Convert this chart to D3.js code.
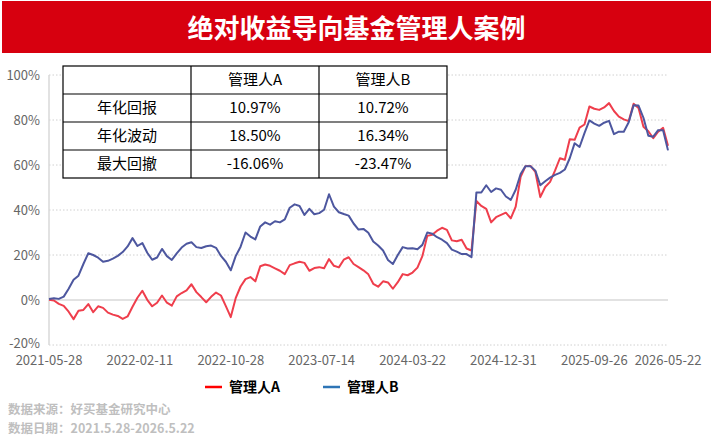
<!DOCTYPE html>
<html>
<head>
<meta charset="utf-8">
<script src="https://cdn.jsdelivr.net/npm/d3@7"></script>
<style>
  body { margin: 0; background: #fff; }
  svg { display: block; font-family: "Microsoft YaHei", "Noto Sans CJK SC", sans-serif; }
</style>
</head>
<body>
<div id="chart"></div>
<script>
// chart data (cumulative return, %), one value every 2 weeks
const title = "绝对收益导向基金管理人案例";
const seriesNames = ["管理人A", "管理人B"];
const tickIdx = [0, 37, 74, 111, 148, 185, 222, 252];
const tickLabels = ["2021-05-28", "2022-02-11", "2022-10-28", "2023-07-14",
                    "2024-03-22", "2024-12-31", "2025-09-26", "2026-05-22"];
const yTicks = [-20, 0, 20, 40, 60, 80, 100];

const valuesA = [
  0.1, -0.2, -1.7, -2.6, -5.2, -8.5, -4.8, -4.4, -1.8, -5.4,
  -2.8, -3.5, -5.6, -6.5, -7.1, -8.4, -7.3, -3.0, 1.0, 4.1,
  0.1, -2.8, -1.2, 2.0, -1.2, -2.5, 1.6, 3.1, 4.3, 7.0,
  3.5, 1.3, -1.0, 1.4, 3.3, 2.0, -2.7, -7.6, 0.8, 6.0,
  9.3, 10.2, 8.3, 15.0, 15.8, 15.2, 14.1, 13.0, 11.5, 15.5,
  16.3, 17.0, 16.5, 13.0, 14.2, 14.6, 14.1, 18.2, 15.2, 14.5,
  17.9, 19.0, 16.0, 14.6, 13.2, 11.4, 7.2, 5.9, 8.3, 7.8,
  5.0, 7.9, 11.5, 11.0, 12.2, 14.4, 19.5, 28.5, 29.0, 30.8,
  32.1, 31.2, 26.5, 26.1, 26.8, 22.9, 22.0, 44.0, 41.8, 40.5,
  34.5, 36.8, 37.8, 38.8, 36.3, 41.5, 54.7, 59.5, 59.6, 57.0,
  45.7, 50.2, 52.5, 57.5, 63.0, 62.3, 71.4, 71.2, 76.6, 78.0,
  86.0, 85.0, 84.5, 85.6, 87.5, 84.0, 81.5, 80.3, 79.5, 87.2,
  85.3, 77.0, 75.0, 71.9, 74.8, 76.5, 68.5
];
const valuesB = [
  0.4, 0.8, 0.5, 1.5, 5.0, 9.0, 10.8, 16.0, 20.8, 20.0,
  18.8, 17.0, 17.4, 18.4, 19.6, 21.3, 23.8, 27.5, 24.0, 25.3,
  21.0, 17.9, 18.9, 22.7, 19.5, 17.8, 20.7, 23.3, 25.0, 25.7,
  23.5, 23.1, 23.9, 24.2, 23.2, 19.6, 17.0, 13.2, 19.5, 23.7,
  30.0, 28.2, 26.9, 32.7, 34.5, 33.5, 35.0, 34.5, 35.8, 41.0,
  42.5, 41.8, 37.8, 40.5, 38.1, 38.6, 40.1, 47.0, 41.5, 39.0,
  38.2, 37.5, 34.0, 31.3, 31.6, 29.9, 26.0, 24.2, 22.0, 17.8,
  16.0, 20.0, 23.5, 22.9, 23.0, 22.6, 24.5, 30.0, 29.5, 27.9,
  26.8, 25.3, 22.4, 21.5, 20.4, 20.4, 19.0, 47.8, 47.8, 51.0,
  48.0, 49.6, 49.0, 46.0, 44.5, 49.0, 56.0, 59.5, 59.5, 57.5,
  51.0, 52.8, 54.4, 55.6, 56.5, 58.0, 63.0, 69.7, 68.0, 74.2,
  79.8, 78.4, 77.4, 78.8, 79.6, 73.7, 74.8, 74.8, 79.0, 86.6,
  86.4, 81.0, 73.0, 72.6, 75.5, 75.4, 66.5
];

const tableHead = ["", "管理人A", "管理人B"];
const tableRows = [
  ["年化回报", "10.97%", "10.72%"],
  ["年化波动", "18.50%", "16.34%"],
  ["最大回撤", "-16.06%", "-23.47%"]
];

const W = 713, H = 441;
const margin = {top: 75, right: 45, bottom: 96, left: 49};
const step = 2; // category indices between stored values

const svg = d3.select("#chart").append("svg")
  .attr("width", W).attr("height", H);

// title banner
svg.append("rect").attr("x", 2).attr("y", 1).attr("width", W - 4).attr("height", 52)
  .attr("fill", "#d7000f");
svg.append("text").attr("x", W / 2).attr("y", 38)
  .attr("text-anchor", "middle").attr("fill", "#fff")
  .attr("font-size", 26).attr("font-weight", "bold")
  .text(title);

const x = d3.scaleLinear()
  .domain([0, (valuesA.length - 1) * step])
  .range([margin.left, W - margin.right]);
const y = d3.scaleLinear()
  .domain([-20, 100])
  .range([H - margin.bottom, margin.top]);

// gridlines
svg.append("g").selectAll("line")
  .data(yTicks).join("line")
  .attr("x1", margin.left).attr("x2", W - margin.right)
  .attr("y1", d => y(d)).attr("y2", d => y(d))
  .attr("stroke", d => d === 0 ? "#d9d9d9" : "#d0d0d0")
  .attr("stroke-width", d => d === 0 ? 1.5 : 1)
  .attr("stroke-dasharray", d => d === 0 ? null : "1.5,2");

// y axis line
svg.append("line")
  .attr("x1", margin.left).attr("x2", margin.left)
  .attr("y1", y(100)).attr("y2", y(-20))
  .attr("stroke", "#d9d9d9").attr("stroke-width", 1.5);

// y labels
svg.append("g").selectAll("text")
  .data(yTicks).join("text")
  .attr("x", 40).attr("y", d => y(d) + (d === -20 ? 3 : 5))
  .attr("text-anchor", "end").attr("fill", "#666")
  .attr("font-size", 13)
  .text(d => d + "%");

// x labels
svg.append("g").selectAll("text")
  .data(tickIdx).join("text")
  .attr("x", d => x(d)).attr("y", 365)
  .attr("text-anchor", "middle").attr("fill", "#666")
  .attr("font-size", 13)
  .text((d, i) => tickLabels[i]);

// lines
const line = d3.line()
  .x((d, i) => x(i * step))
  .y(d => y(d));

svg.append("path").datum(valuesA)
  .attr("d", line).attr("fill", "none")
  .attr("stroke", "#ef3e4c").attr("stroke-width", 2)
  .attr("stroke-linejoin", "round");

svg.append("path").datum(valuesB)
  .attr("d", line).attr("fill", "none")
  .attr("stroke", "#4d579f").attr("stroke-width", 2)
  .attr("stroke-linejoin", "round");

// table
const tX = [63, 191, 319, 447];
const tY = 66, rowH = 28;
const allRows = [tableHead].concat(tableRows);
const tbl = svg.append("g");
tbl.append("rect")
  .attr("x", tX[0]).attr("y", tY)
  .attr("width", tX[3] - tX[0]).attr("height", rowH * allRows.length)
  .attr("fill", "#fff").attr("stroke", "#000").attr("stroke-width", 1.2);
tbl.selectAll("line.h")
  .data(d3.range(1, allRows.length)).join("line").attr("class", "h")
  .attr("x1", tX[0]).attr("x2", tX[3])
  .attr("y1", d => tY + d * rowH).attr("y2", d => tY + d * rowH)
  .attr("stroke", "#000").attr("stroke-width", 1.2);
tbl.selectAll("line.v")
  .data([1, 2]).join("line").attr("class", "v")
  .attr("x1", d => tX[d]).attr("x2", d => tX[d])
  .attr("y1", tY).attr("y2", tY + rowH * allRows.length)
  .attr("stroke", "#000").attr("stroke-width", 1.2);
allRows.forEach((row, r) => {
  row.forEach((cell, c) => {
    tbl.append("text")
      .attr("x", (tX[c] + tX[c + 1]) / 2)
      .attr("y", tY + r * rowH + rowH / 2 + 5)
      .attr("text-anchor", "middle").attr("fill", "#000")
      .attr("font-size", 15)
      .text(cell);
  });
});

// legend
const legendColors = ["#ff0000", "#2e75b6"];
const lg = svg.append("g").selectAll("g")
  .data(seriesNames).join("g")
  .attr("transform", (d, i) => `translate(${205 + i * 118},387)`);
lg.append("line").attr("x1", 0).attr("x2", 17)
  .attr("stroke", (d, i) => legendColors[i]).attr("stroke-width", 2.5);
lg.append("text").attr("x", 24).attr("y", 5)
  .attr("font-size", 14).attr("font-weight", "bold").attr("fill", "#000")
  .text(d => d);

// footer
svg.append("text").attr("x", 8).attr("y", 414)
  .attr("font-size", 12.5).attr("font-weight", "bold").attr("fill", "#bfbfbf")
  .text("数据来源：好买基金研究中心");
svg.append("text").attr("x", 8).attr("y", 432.5)
  .attr("font-size", 12.5).attr("font-weight", "bold").attr("fill", "#bfbfbf")
  .text("数据日期：2021.5.28-2026.5.22");
</script>
</body>
</html>
